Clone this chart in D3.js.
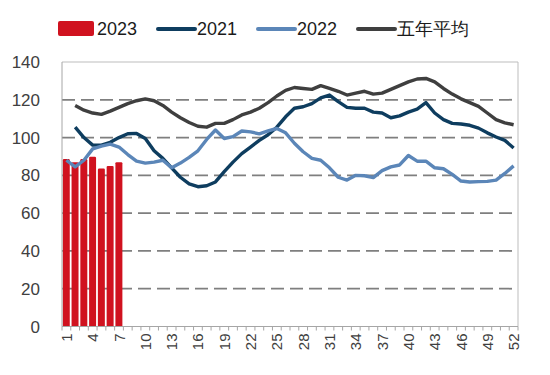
<!DOCTYPE html>
<html>
<head>
<meta charset="utf-8">
<script src="https://cdn.jsdelivr.net/npm/d3@7"></script>
<style>
  body { margin: 0; background: #fff; }
  svg { font-family: "Liberation Sans", Arial, sans-serif; }
  .ylab { font-size: 17px; fill: #404040; }
  .xlab { font-size: 15px; fill: #404040; }
  .legend text { font-size: 18px; fill: #1a1a1a; }
</style>
</head>
<body>
<svg width="550" height="375"></svg>
<script>
const weeks = d3.range(1, 53).map(String)
const yTicks = [0, 20, 40, 60, 80, 100, 120, 140]

// 2023 bars (weeks 1-7)
const v2023 = [88.6, 87, 88.6, 89.8, 83.6, 85, 87]

const v2021 = [null, 105.5, 100, 96, 96, 97.5, 100, 102, 102.2, 99.5,
  93, 89, 84, 79, 75.5, 74, 74.5, 76.5, 82, 87,
  91.5, 95, 98.5, 101.5, 105.5, 111, 115.5, 116.3, 118, 121,
  122.5, 119, 116, 115.5, 115.5, 113.5, 113, 110.5, 111.5, 113.5,
  115, 118.5, 113, 109.5, 107.5, 107.2, 106.5, 105, 102.5, 100.3,
  98.5, 94.5]

const v2022 = [88, 84.5, 88, 94, 95.5, 96.5, 95, 91, 87.5, 86.5,
  87, 88, 84, 86.5, 89.5, 93, 99, 104, 99.5, 100.5,
  103.5, 103, 102, 103.5, 104.8, 102.5, 97, 92.5, 89, 88,
  84, 79, 77.5, 80, 79.8, 78.8, 82.5, 84.5, 85.5, 90.5,
  87.5, 87.5, 84, 83.5, 80.5, 77, 76.5, 76.7, 76.8, 77.5,
  81, 85]

const vAvg = [null, 117, 114.5, 113, 112.3, 114, 116, 118, 119.5, 120.5,
  119.5, 117, 113.5, 110.5, 108, 106, 105.5, 107.5, 107.5, 109.5,
  112, 113.5, 115.5, 118.5, 122, 125, 126.5, 126, 125.5, 127.5,
  126, 124.5, 122.5, 123.5, 124.5, 123, 123.5, 125.5, 127.5, 129.5,
  131, 131.3, 129.5, 126, 123, 120.5, 118.5, 116.5, 113, 109.5,
  107.8, 106.8]

const lineSeries = [
  { name: "2021", values: v2021, color: "#0e3d5f" },
  { name: "2022", values: v2022, color: "#5b86b8" },
  { name: "五年平均", values: vAvg, color: "#3f3f3f" }
]

const svg = d3.select("svg")

const plotLeft = 62, plotRight = 518, plotTop = 62, plotBottom = 326.5

const x = d3.scaleBand()
  .domain(weeks)
  .range([plotLeft, plotRight])

const y = d3.scaleLinear()
  .domain([0, 140])
  .range([plotBottom, plotTop])

const bw = x.bandwidth()

// gridlines
svg.append("g")
  .selectAll("line")
  .data(yTicks.filter(d => d > 0 && d < 140))
  .enter()
  .append("line")
  .attr("x1", plotLeft)
  .attr("x2", plotRight)
  .attr("y1", d => y(d))
  .attr("y2", d => y(d))
  .attr("stroke", "#7f7f7f")
  .attr("stroke-width", 1.8)
  .attr("stroke-dasharray", "13,6")

// frame top / right
svg.append("line")
  .attr("x1", plotLeft).attr("x2", plotRight)
  .attr("y1", y(140)).attr("y2", y(140))
  .attr("stroke", "#bdbdbd").attr("stroke-width", 1)
svg.append("line")
  .attr("x1", plotRight).attr("x2", plotRight)
  .attr("y1", y(140)).attr("y2", plotBottom)
  .attr("stroke", "#bdbdbd").attr("stroke-width", 1)

// y labels
svg.append("g")
  .selectAll("text")
  .data(yTicks)
  .enter()
  .append("text")
  .attr("class", "ylab")
  .attr("x", 40)
  .attr("y", d => y(d) + 6)
  .attr("text-anchor", "end")
  .text(d => d)

// bars 2023
svg.append("g")
  .selectAll("rect")
  .data(v2023)
  .enter()
  .append("rect")
  .attr("x", (d, i) => x(weeks[i]) + 0.8)
  .attr("width", bw - 1.8)
  .attr("y", d => y(d))
  .attr("height", d => plotBottom - y(d))
  .attr("rx", 1.2)
  .attr("fill", "#d0121f")

// lines
const lineGen = d3.line()
  .defined(d => d != null)
  .x((d, i) => x(weeks[i]) + bw / 2)
  .y(d => y(d))

svg.append("g")
  .selectAll("path")
  .data(lineSeries)
  .enter()
  .append("path")
  .attr("d", d => lineGen(d.values))
  .attr("fill", "none")
  .attr("stroke", d => d.color)
  .attr("stroke-width", 3.4)
  .attr("stroke-linejoin", "round")

// axes lines
svg.append("line")
  .attr("x1", plotLeft).attr("x2", plotLeft)
  .attr("y1", y(140)).attr("y2", plotBottom)
  .attr("stroke", "#a6a6a6").attr("stroke-width", 1)
svg.append("line")
  .attr("x1", plotLeft).attr("x2", plotRight)
  .attr("y1", plotBottom).attr("y2", plotBottom)
  .attr("stroke", "#a6a6a6").attr("stroke-width", 1)

// x ticks at band boundaries
svg.append("g")
  .selectAll("line")
  .data(d3.range(0, weeks.length + 1))
  .enter()
  .append("line")
  .attr("x1", i => plotLeft + i * bw)
  .attr("x2", i => plotLeft + i * bw)
  .attr("y1", plotBottom)
  .attr("y2", plotBottom + 4)
  .attr("stroke", "#a6a6a6")

// x labels every third week
svg.append("g")
  .selectAll("text")
  .data(weeks.filter((d, i) => i % 3 === 0))
  .enter()
  .append("text")
  .attr("class", "xlab")
  .attr("transform", d => `translate(${x(d) + bw / 2 + 5.5}, ${plotBottom + 7}) rotate(-90)`)
  .attr("text-anchor", "end")
  .text(d => d)

// legend
const legend = svg.append("g").attr("class", "legend")
legend.append("rect")
  .attr("x", 58).attr("y", 21).attr("width", 36).attr("height", 15)
  .attr("rx", 2).attr("fill", "#d0121f")
legend.append("text").attr("x", 97).attr("y", 35).text("2023")

const legendX = [158, 258, 358]
lineSeries.forEach((s, i) => {
  legend.append("line")
    .attr("x1", legendX[i]).attr("x2", legendX[i] + 37)
    .attr("y1", 29).attr("y2", 29)
    .attr("stroke", s.color).attr("stroke-width", 4)
    .attr("stroke-linecap", "round")
  legend.append("text")
    .attr("x", legendX[i] + 39).attr("y", 35)
    .text(s.name)
})
</script>
</body>
</html>
